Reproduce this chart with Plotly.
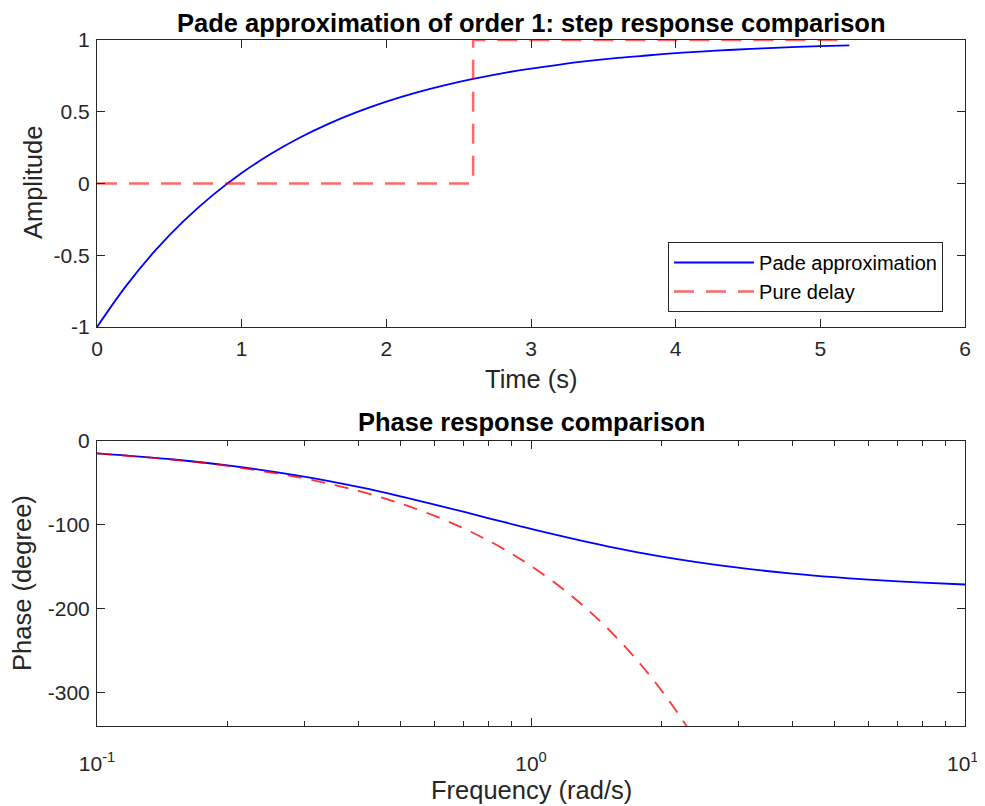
import plotly.graph_objects as go

# step response
t_pade = [0.0, 0.2, 0.4, 0.6, 0.8, 1.0, 1.2, 1.4, 1.6, 1.8, 2.0, 2.2, 2.4, 2.6,
          2.8, 3.0, 3.2, 3.4, 3.6, 3.8, 4.0, 4.2, 4.4, 4.6, 4.8, 5.0, 5.2]
y_pade = [-1.0, -0.715, -0.470, -0.261, -0.081, 0.073, 0.205, 0.319, 0.416,
          0.499, 0.571, 0.632, 0.684, 0.729, 0.768, 0.801, 0.829, 0.854, 0.875,
          0.892, 0.908, 0.921, 0.932, 0.942, 0.950, 0.957, 0.963]
t_delay = [0.0, 2.6, 2.6, 5.2]
y_delay = [0.0, 0.0, 1.0, 1.0]

# phase response
w_pade = [0.1, 0.15, 0.2, 0.3, 0.4, 0.5, 0.6, 0.8, 1.0, 1.5, 2.0, 3.0, 4.0,
          5.0, 6.0, 8.0, 10.0]
ph_pade = [-14.8, -22.1, -29.1, -42.6, -54.9, -66.0, -75.9, -92.2, -104.9,
           -125.7, -137.9, -151.2, -158.2, -162.5, -165.4, -169.0, -171.2]
w_delay = [0.1, 0.15, 0.2, 0.3, 0.4, 0.5, 0.6, 0.7, 0.8, 0.9, 1.0, 1.2, 1.4,
           1.6, 1.8, 2.0, 2.2, 2.4]
ph_delay = [-14.9, -22.3, -29.8, -44.7, -59.6, -74.5, -89.4, -104.3, -119.2,
            -134.1, -149.0, -178.8, -208.6, -238.4, -268.1, -297.9, -327.7, -357.5]

# tick labels
t_ticks = [0, 1, 2, 3, 4, 5, 6]
amp_ticks = [-1, -0.5, 0, 0.5, 1]
amp_labels = ["-1", "-0.5", "0", "0.5", "1"]
w_ticks = [0.1, 1, 10]
w_labels = ["10<sup>-1</sup>", "10<sup>0</sup>", ""]
w_last_label = "10<sup>1</sup>"
ph_ticks = [0, -100, -200, -300]
ph_labels = ["0", "-100", "-200", "-300"]

FONT = "Liberation Sans, Arial, sans-serif"
INK = "#262626"
TICK = 21
LABEL = 25.5
TITLE = 25.5

fig = go.Figure()

fig.add_trace(go.Scatter(x=t_pade, y=y_pade, mode="lines", name="Pade approximation",
                         line=dict(color="#0000FF", width=1.8, shape="spline"),
                         xaxis="x", yaxis="y"))
fig.add_trace(go.Scatter(x=t_delay, y=y_delay, mode="lines", name="Pure delay",
                         line=dict(color="rgba(255,0,0,0.6)", width=2.5, dash="20px,12px"),
                         xaxis="x", yaxis="y"))
fig.add_trace(go.Scatter(x=w_pade, y=ph_pade, mode="lines", showlegend=False,
                         line=dict(color="#0000FF", width=1.8, shape="spline"),
                         xaxis="x2", yaxis="y2"))
fig.add_trace(go.Scatter(x=w_delay, y=ph_delay, mode="lines", showlegend=False,
                         line=dict(color="rgba(255,0,0,0.8)", width=1.8, dash="14px,10px",
                                   shape="spline"),
                         xaxis="x2", yaxis="y2"))

axis_style = dict(showline=True, linecolor=INK, linewidth=1, mirror="ticks",
                  ticks="inside", ticklen=8, tickcolor=INK, showgrid=False,
                  zeroline=False, tickfont=dict(family=FONT, size=TICK, color=INK))

# page has an 8px body margin, so the figure is 8px smaller each way
fig.update_layout(
    width=977, height=798,
    margin=dict(l=89, r=20, t=32, b=80),
    paper_bgcolor="white", plot_bgcolor="white",
    font=dict(family=FONT, color=INK),
    xaxis=dict(domain=[0, 1], anchor="y", range=[0, 6], tickvals=t_ticks,
               ticklabelstandoff=3, **axis_style),
    yaxis=dict(domain=[0.5816, 1.0], anchor="x", range=[-1, 1],
               tickvals=amp_ticks, ticktext=amp_labels, ticklabelstandoff=2, **axis_style),
    xaxis2=dict(domain=[0, 1], anchor="y2", type="log", range=[-1, 1],
                tickvals=w_ticks, ticktext=w_labels,
                minor=dict(ticks="inside", ticklen=5, tickcolor=INK,
                           tickvals=[0.2, 0.3, 0.4, 0.5, 0.6, 0.7, 0.8, 0.9,
                                     2, 3, 4, 5, 6, 7, 8, 9]),
                ticklabelstandoff=19, **axis_style),
    yaxis2=dict(domain=[0, 0.4155], anchor="x2", range=[-340, 0],
                tickvals=ph_ticks, ticktext=ph_labels, ticklabelstandoff=2, **axis_style),
    legend=dict(x=0.9747, y=0.6035, xanchor="right", yanchor="bottom",
                bgcolor="white", bordercolor=INK, borderwidth=1,
                font=dict(family=FONT, size=20, color="#000000"),
                itemwidth=80, tracegroupgap=0),
    showlegend=True,
)

# main title sits right at the top edge of the figure
fig.add_annotation(text="<b>Pade approximation of order 1: step response comparison</b>",
                   x=0.5, y=1.0466, xref="paper", yref="paper", xanchor="center",
                   yanchor="top", borderpad=0, showarrow=False,
                   font=dict(family=FONT, size=TITLE, color="#000000"))

titles = [
    dict(text="Time (s)", x=0.5, y=0.5058, size=LABEL, angle=0, color=INK),
    dict(text="Amplitude", x=-0.0737, y=0.7915, size=LABEL, angle=-90, color=INK),
    dict(text="<b>Phase response comparison</b>", x=0.5, y=0.443, size=TITLE, angle=0,
         color="#000000"),
    dict(text="Frequency (rad/s)", x=0.5, y=-0.0933, size=LABEL, angle=0, color=INK),
    dict(text="Phase (degree)", x=-0.0864, y=0.2085, size=LABEL, angle=-90, color=INK),
]
for a in titles:
    fig.add_annotation(text=a["text"], x=a["x"], y=a["y"], xref="paper", yref="paper",
                       xanchor="center", yanchor="middle", showarrow=False,
                       textangle=a["angle"],
                       font=dict(family=FONT, size=a["size"], color=a["color"]))

# last log tick label would run off the page, so right-align it at the right edge
fig.add_annotation(text=w_last_label, x=1.0, xref="paper", y=0, yref="paper",
                   xanchor="right", yanchor="top", xshift=15, yshift=-22, showarrow=False,
                   borderpad=0, font=dict(family=FONT, size=TICK, color=INK))

fig.write_html("out.html")
